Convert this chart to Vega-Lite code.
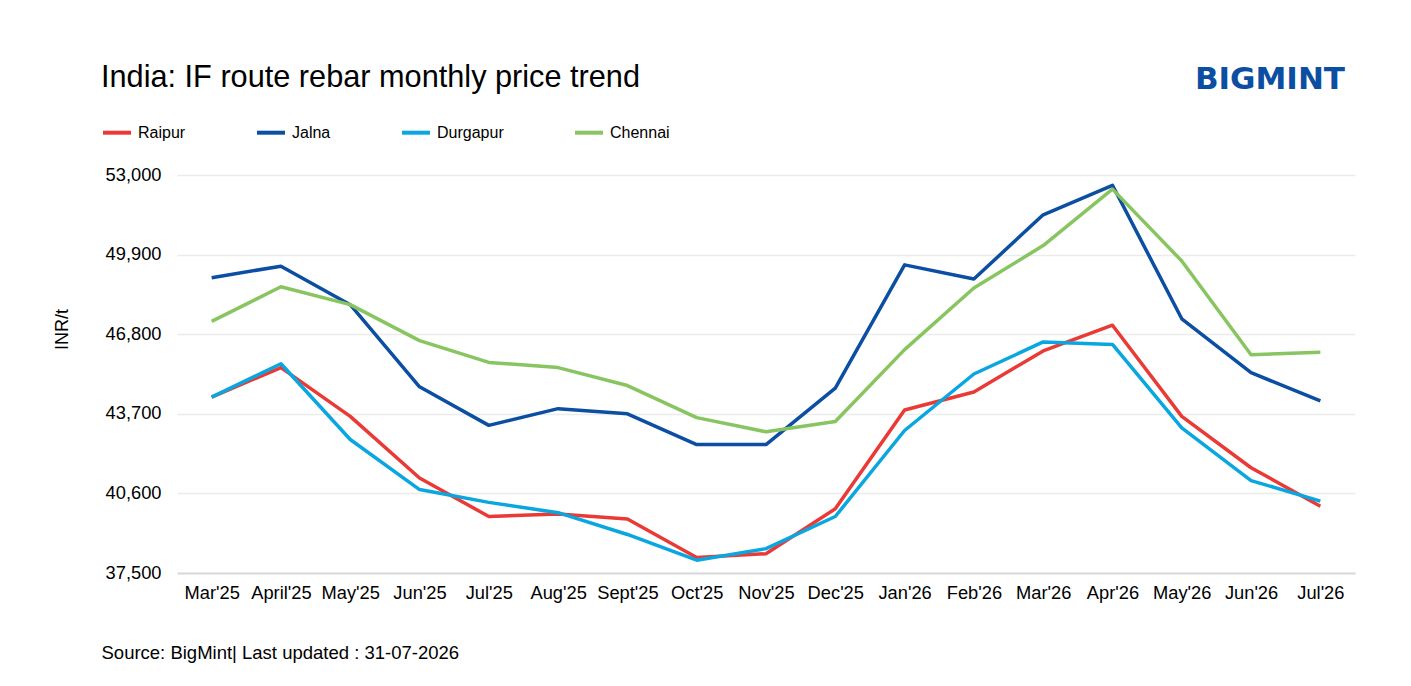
{
  "$schema": "https://vega.github.io/schema/vega-lite/v6.json",
  "autosize": "none",
  "width": 1178,
  "height": 398,
  "padding": {"left": 177, "top": 175, "right": 56, "bottom": 113},
  "background": "#ffffff",
  "title": {
    "text": "BIGMINT",
    "anchor": "end",
    "frame": "group",
    "orient": "top",
    "baseline": "alphabetic",
    "offset": 0,
    "dy": 57,
    "dx": -10,
    "font": "DejaVu Sans",
    "fontSize": 31,
    "fontWeight": "bold",
    "color": "#0B4EA2"
  },
  "data": {
    "values": [
      {"month": "Mar'25", "city": "Raipur", "price": 44350},
      {"month": "April'25", "city": "Raipur", "price": 45500},
      {"month": "May'25", "city": "Raipur", "price": 43600},
      {"month": "Jun'25", "city": "Raipur", "price": 41200},
      {"month": "Jul'25", "city": "Raipur", "price": 39700},
      {"month": "Aug'25", "city": "Raipur", "price": 39800},
      {"month": "Sept'25", "city": "Raipur", "price": 39600},
      {"month": "Oct'25", "city": "Raipur", "price": 38100},
      {"month": "Nov'25", "city": "Raipur", "price": 38250},
      {"month": "Dec'25", "city": "Raipur", "price": 40000},
      {"month": "Jan'26", "city": "Raipur", "price": 43850},
      {"month": "Feb'26", "city": "Raipur", "price": 44550},
      {"month": "Mar'26", "city": "Raipur", "price": 46150},
      {"month": "Apr'26", "city": "Raipur", "price": 47150},
      {"month": "May'26", "city": "Raipur", "price": 43600},
      {"month": "Jun'26", "city": "Raipur", "price": 41600},
      {"month": "Jul'26", "city": "Raipur", "price": 40100},
      {"month": "Mar'25", "city": "Jalna", "price": 49000},
      {"month": "April'25", "city": "Jalna", "price": 49450},
      {"month": "May'25", "city": "Jalna", "price": 47950},
      {"month": "Jun'25", "city": "Jalna", "price": 44750},
      {"month": "Jul'25", "city": "Jalna", "price": 43250},
      {"month": "Aug'25", "city": "Jalna", "price": 43900},
      {"month": "Sept'25", "city": "Jalna", "price": 43700},
      {"month": "Oct'25", "city": "Jalna", "price": 42500},
      {"month": "Nov'25", "city": "Jalna", "price": 42500},
      {"month": "Dec'25", "city": "Jalna", "price": 44700},
      {"month": "Jan'26", "city": "Jalna", "price": 49500},
      {"month": "Feb'26", "city": "Jalna", "price": 48950},
      {"month": "Mar'26", "city": "Jalna", "price": 51450},
      {"month": "Apr'26", "city": "Jalna", "price": 52600},
      {"month": "May'26", "city": "Jalna", "price": 47400},
      {"month": "Jun'26", "city": "Jalna", "price": 45300},
      {"month": "Jul'26", "city": "Jalna", "price": 44200},
      {"month": "Mar'25", "city": "Durgapur", "price": 44350},
      {"month": "April'25", "city": "Durgapur", "price": 45650},
      {"month": "May'25", "city": "Durgapur", "price": 42700},
      {"month": "Jun'25", "city": "Durgapur", "price": 40750},
      {"month": "Jul'25", "city": "Durgapur", "price": 40250},
      {"month": "Aug'25", "city": "Durgapur", "price": 39850},
      {"month": "Sept'25", "city": "Durgapur", "price": 39000},
      {"month": "Oct'25", "city": "Durgapur", "price": 38000},
      {"month": "Nov'25", "city": "Durgapur", "price": 38450},
      {"month": "Dec'25", "city": "Durgapur", "price": 39700},
      {"month": "Jan'26", "city": "Durgapur", "price": 43050},
      {"month": "Feb'26", "city": "Durgapur", "price": 45250},
      {"month": "Mar'26", "city": "Durgapur", "price": 46500},
      {"month": "Apr'26", "city": "Durgapur", "price": 46400},
      {"month": "May'26", "city": "Durgapur", "price": 43150},
      {"month": "Jun'26", "city": "Durgapur", "price": 41100},
      {"month": "Jul'26", "city": "Durgapur", "price": 40300},
      {"month": "Mar'25", "city": "Chennai", "price": 47300},
      {"month": "April'25", "city": "Chennai", "price": 48650},
      {"month": "May'25", "city": "Chennai", "price": 47950},
      {"month": "Jun'25", "city": "Chennai", "price": 46550},
      {"month": "Jul'25", "city": "Chennai", "price": 45700},
      {"month": "Aug'25", "city": "Chennai", "price": 45500},
      {"month": "Sept'25", "city": "Chennai", "price": 44800},
      {"month": "Oct'25", "city": "Chennai", "price": 43550},
      {"month": "Nov'25", "city": "Chennai", "price": 43000},
      {"month": "Dec'25", "city": "Chennai", "price": 43400},
      {"month": "Jan'26", "city": "Chennai", "price": 46200},
      {"month": "Feb'26", "city": "Chennai", "price": 48600},
      {"month": "Mar'26", "city": "Chennai", "price": 50250},
      {"month": "Apr'26", "city": "Chennai", "price": 52450},
      {"month": "May'26", "city": "Chennai", "price": 49650},
      {"month": "Jun'26", "city": "Chennai", "price": 46000},
      {"month": "Jul'26", "city": "Chennai", "price": 46100}
    ]
  },
  "mark": {"type": "line", "strokeWidth": 3.5, "strokeJoin": "round"},
  "encoding": {
    "x": {
      "field": "month",
      "type": "ordinal",
      "sort": null,
      "scale": {"padding": 0.5},
      "axis": {
        "title": "Source: BigMint| Last updated : 31-07-2026",
        "titleFont": "Liberation Sans",
        "titleFontSize": 18.5,
        "titleFontWeight": "normal",
        "titleColor": "#000000",
        "titleAlign": "left",
        "titleBaseline": "alphabetic",
        "titleX": -76,
        "titleY": 85,
        "labelAngle": 0,
        "labelFont": "Liberation Sans",
        "labelFontSize": 18.3,
        "labelColor": "#000000",
        "labelPadding": 11,
        "ticks": false,
        "domainColor": "#D9D9D9",
        "domainWidth": 2,
        "grid": false
      }
    },
    "y": {
      "field": "price",
      "type": "quantitative",
      "scale": {"domain": [37500, 53000], "nice": false, "zero": false},
      "axis": {
        "title": "INR/t",
        "titleFont": "Liberation Sans",
        "titleFontSize": 18,
        "titleFontWeight": "normal",
        "titleColor": "#000000",
        "titleAngle": -90,
        "titleAlign": "center",
        "titleBaseline": "middle",
        "titleX": -115,
        "titleY": 154,
        "values": [37500, 40600, 43700, 46800, 49900, 53000],
        "format": ",.0f",
        "labelFont": "Liberation Sans",
        "labelFontSize": 18.3,
        "labelColor": "#000000",
        "labelPadding": 16,
        "ticks": false,
        "domain": false,
        "gridColor": "#EBEBEB",
        "gridWidth": 1.5
      }
    },
    "color": {
      "field": "city",
      "type": "nominal",
      "sort": ["Raipur", "Jalna", "Durgapur", "Chennai"],
      "scale": {
        "domain": ["Raipur", "Jalna", "Durgapur", "Chennai"],
        "range": ["#E93A36", "#0B4EA2", "#0AA6E0", "#88C561"]
      },
      "legend": {
        "title": "India: IF route rebar monthly price trend",
        "orient": "none",
        "legendX": -76,
        "legendY": -112,
        "direction": "horizontal",
        "titleFont": "Liberation Sans",
        "titleFontSize": 30.7,
        "titleFontWeight": "normal",
        "titleColor": "#000000",
        "titleLimit": 900,
        "titlePadding": 23,
        "titleAnchor": "start",
        "symbolType": "stroke",
        "symbolSize": 784,
        "symbolStrokeWidth": 4,
        "labelFont": "Liberation Sans",
        "labelFontSize": 16,
        "labelColor": "#000000",
        "labelOffset": 5,
        "columnPadding": 63
      }
    }
  },
  "config": {
    "view": {"stroke": null}
  }
}
